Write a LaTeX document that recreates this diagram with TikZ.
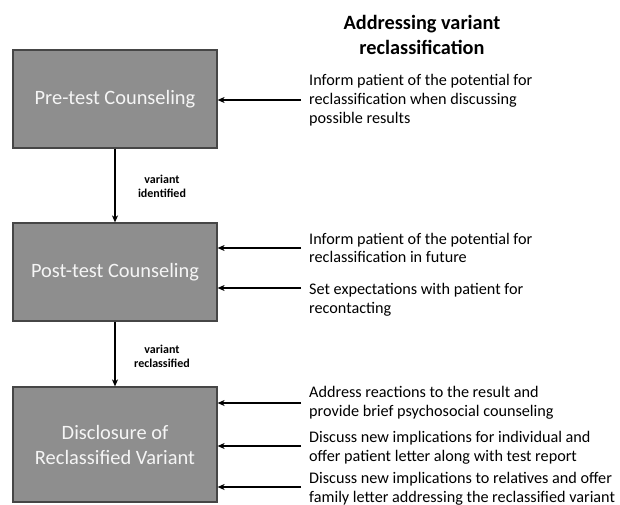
\documentclass[tikz,border=0pt]{standalone}
\usepackage{fontspec}
\setmainfont{Carlito}
\usetikzlibrary{arrows.meta}
\definecolor{boxfill}{RGB}{142,142,142}
\definecolor{boxborder}{RGB}{70,70,70}
\definecolor{boxtext}{RGB}{245,245,245}
\begin{document}
\begin{tikzpicture}[x=1pt,y=-1pt,
  stage/.style={draw=boxborder, line width=1.2pt, fill=boxfill, text=boxtext,
    font=\fontsize{20.4}{25}\selectfont, align=center, inner sep=0pt, minimum width=204pt},
  note/.style={anchor=west, align=left, inner xsep=8pt, inner ysep=0pt,
    font=\fontsize{16.2}{18.8}\selectfont},
  lbl/.style={font=\bfseries\fontsize{12}{14}\selectfont, align=center},
  arr/.style={-{Stealth[length=7pt,width=6pt,inset=2pt]}, line width=1.3pt}]
\useasboundingbox (0,0) rectangle (620,505);
\node[font=\bfseries\fontsize{20.3}{25}\selectfont, align=center] (title) at (422,35)
  {Addressing variant\\reclassification};
\node[stage, minimum height=98pt] (b1) at (115,99) {Pre-test Counseling};
\node[stage, minimum height=98pt] (b2) at (115,272) {Post-test Counseling};
\node[stage, minimum height=115pt] (b3) at (115,444.5) {Disclosure of\\Reclassified Variant};
\draw[arr] (b1) -- (b2);
\draw[arr] (b2) -- (b3);
\node[lbl] (l1) at (162,186) {variant\\identified};
\node[lbl] (l2) at (162,356) {variant\\reclassified};
\node[note] (t1) at (301,100) {Inform patient of the potential for\\reclassification when discussing\\possible results};
\node[note] (t2) at (301,248) {Inform patient of the potential for\\reclassification in future};
\node[note] (t3) at (301,300) {Set expectations with patient for\\recontacting};
\node[note] (t4) at (301,403) {Address reactions to the result and\\provide brief psychosocial counseling};
\node[note] (t5) at (301,448) {Discuss new implications for individual and\\offer patient letter along with test report};
\node[note] (t6) at (301,489) {Discuss new implications to relatives and offer\\family letter addressing the reclassified variant};
\draw[arr] (t1.west) -- (t1.west -| b1.east);
\draw[arr] (t2.west) -- (t2.west -| b2.east);
\draw[arr] ([yshift=12pt]t3.west) -- ([yshift=12pt]t3.west -| b2.east);
\draw[arr] (t4.west) -- (t4.west -| b3.east);
\draw[arr] ([yshift=2pt]t5.west) -- ([yshift=2pt]t5.west -| b3.east);
\draw[arr] ([yshift=2pt]t6.west) -- ([yshift=2pt]t6.west -| b3.east);
\end{tikzpicture}
\end{document}
